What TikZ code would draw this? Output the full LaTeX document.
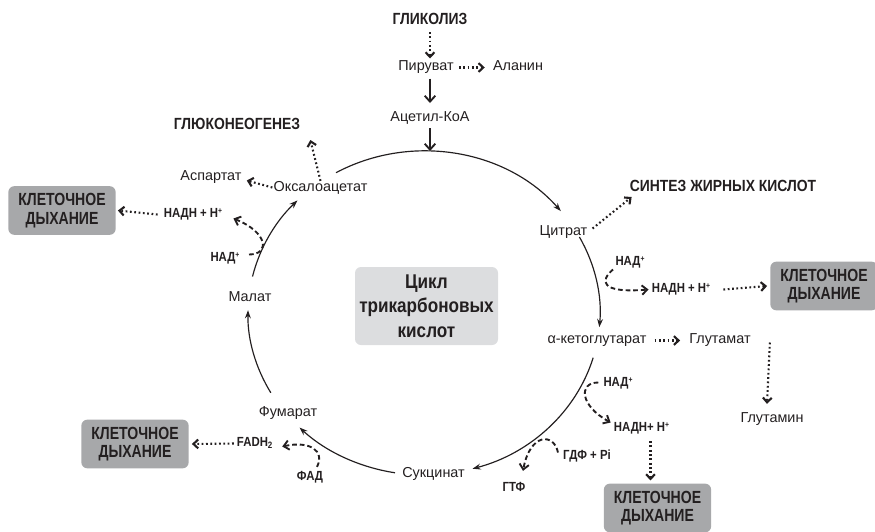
\documentclass[tikz,border=0pt]{standalone}
\usepackage{fontspec}
\setmainfont{Liberation Sans}
\newfontfamily\condbf{Liberation Sans Bold}[FakeStretch=0.86]
\newfontfamily\boxbf{Liberation Sans Bold}[FakeStretch=0.8]
\usetikzlibrary{arrows.meta,calc}
\definecolor{ink}{HTML}{231F20}
\definecolor{boxgray}{HTML}{A7A8AA}
\definecolor{cyclegray}{HTML}{DCDDDF}
\newcommand\ionplus{\raisebox{0.55ex}{\scalebox{0.6}{+}}}
\tikzset{
  lbl/.style={inner sep=0pt, text height=0.72em, text depth=0.2em, text=ink, font=\fontsize{12.3}{14}\selectfont},
  tag/.style={inner sep=0pt, text height=0.72em, text depth=0.2em, text=ink, font=\condbf\fontsize{11.3}{13}\selectfont},
  head/.style={inner sep=0pt, text height=0.72em, text depth=0pt, text=ink, font=\condbf\fontsize{13.8}{16}\selectfont},
  resp/.style={fill=boxgray, rounded corners=1.8mm, minimum width=32.2mm, minimum height=14.6mm, align=center, text=ink, font=\boxbf\fontsize{15}{16}\selectfont},
  cbox/.style={fill=cyclegray, rounded corners=1.8mm, minimum width=42.9mm, minimum height=23.4mm, align=center, text=ink, font=\condbf\fontsize{17}{21}\selectfont},
  cycarr/.style={ink, line width=1pt, -{Stealth[length=7pt,width=5pt]}},
  mainarr/.style={ink, line width=1.6pt, -{Straight Barb[length=5pt,width=9pt]}},
  dotarr/.style={ink, line width=1.8pt, dash pattern=on 1.5pt off 2.2pt, -{Straight Barb[length=4pt,width=7.5pt]}},
  dasharr/.style={ink, line width=1.6pt, dash pattern=on 4pt off 2.5pt, -{Straight Barb[length=4.5pt,width=8pt]}},
}
\begin{document}
\begin{tikzpicture}[x=0.3mm,y=-0.3mm]
  \useasboundingbox (0,0) rectangle (875,531);
  \coordinate (cyc) at (424,313);
  \node[cbox] (tca) at (426.5,306) {Цикл\\трикарбоновых\\кислот};

  \node[head] (glyc) at (430,20) {ГЛИКОЛИЗ};
  \node[lbl] (pyr) at (426,67.5) {Пируват};
  \node[lbl] (ala) at (518,67.5) {Аланин};
  \node[lbl] (acoa) at (430,118) {Ацетил-КоА};
  \node[head] (gng) at (237,125) {ГЛЮКОНЕОГЕНЕЗ};
  \node[lbl] (asp) at (211,177.5) {Аспартат};
  \node[lbl] (oaa) at (320.5,188.5) {Оксалоацетат};
  \node[tag] (nadhL) at (193,214.5) {НАДН + Н\ionplus};
  \node[tag] (nadL) at (225,258.5) {НАД\ionplus};
  \node[lbl] (mal) at (250,298.5) {Малат};
  \node[lbl] (fum) at (288,413.5) {Фумарат};
  \node[tag] (fadh) at (255,443.5) {FADH\textsubscript{2}};
  \node[tag] (fad) at (310,477.5) {ФАД};
  \node[lbl] (suc) at (433.5,474.5) {Сукцинат};
  \node[tag] (gtp) at (514,488.5) {ГТФ};
  \node[tag] (gdp) at (587,456.5) {ГДФ + Pi};
  \node[tag] (nadhB) at (641.5,428.5) {НАДН+ Н\ionplus};
  \node[tag] (nadB) at (618,383.5) {НАД\ionplus};
  \node[lbl] (akg) at (597,340.5) {α-кетоглутарат};
  \node[lbl] (glu) at (720,340.5) {Глутамат};
  \node[lbl] (gln) at (772,419.5) {Глутамин};
  \node[lbl] (cit) at (563.5,232.5) {Цитрат};
  \node[head] (fas) at (723,187) {СИНТЕЗ ЖИРНЫХ КИСЛОТ};
  \node[tag] (nadR) at (630,262.5) {НАД\ionplus};
  \node[tag] (nadhR) at (681,289.5) {НАДН + Н\ionplus};

  \node[resp] (resp1) at (62,210.5) {КЛЕТОЧНОЕ\\ДЫХАНИЕ};
  \node[resp] (resp2) at (824,286) {КЛЕТОЧНОЕ\\ДЫХАНИЕ};
  \node[resp] (resp3) at (657.5,508) {КЛЕТОЧНОЕ\\ДЫХАНИЕ};
  \node[resp] (resp4) at (135,444) {КЛЕТОЧНОЕ\\ДЫХАНИЕ};

  \draw[cycarr] ([shift={(240:176 and 162)}]cyc) arc[start angle=240, end angle=321, x radius=176, y radius=162];
  \draw[cycarr] ([shift={(332:176 and 162)}]cyc) arc[start angle=332, end angle=365, x radius=176, y radius=162];
  \draw[cycarr] ([shift={(16:176 and 162)}]cyc) arc[start angle=16, end angle=74, x radius=176, y radius=162];
  \draw[cycarr] ([shift={(99.5:176 and 162)}]cyc) arc[start angle=99.5, end angle=135, x radius=176, y radius=162];
  \draw[cycarr] ([shift={(150.5:176 and 162)}]cyc) arc[start angle=150.5, end angle=181, x radius=176, y radius=162];
  \draw[cycarr] ([shift={(193:176 and 162)}]cyc) arc[start angle=193, end angle=224, x radius=176, y radius=162];

  \draw[dotarr] ($(glyc)+(0,12)$) -- ($(pyr)+(4,-9)$);
  \draw[dotarr] ($(pyr.east)+(5,0)$) -- ($(ala.west)+(-8,0)$);
  \draw[mainarr] ($(pyr)+(4,11)$) -- ($(acoa)+(0,-15)$);
  \draw[mainarr] ($(acoa)+(0,10)$) -- ($(acoa)+(0,33)$);

  \draw[dotarr] ($(oaa.north)+(0,-2)$) -- ($(gng.east)+(10,15)$);
  \draw[dotarr] ($(oaa.west)+(-1,-1)$) -- ($(asp.east)+(5,3)$);
  \draw[dotarr] ($(nadhL.west)+(-6,0)$) -- ($(resp1.east)+(2,0)$);
  \draw[dasharr] ($(nadL)+(24,-4)$) .. controls +(21,0) and +(35,14) .. ($(nadhL.east)+(11,4)$);

  \draw[dotarr] ($(fadh.west)+(-3,0)$) -- ($(resp4.east)+(3,0)$);
  \draw[dasharr] ($(fad.north)+(7,-5)$) .. controls +(8,-16) and +(28,-6) .. ($(fadh.east)+(9,3)$);

  \draw[dotarr] ($(cit.east)+(5,-4)$) -- ($(fas.west)+(2,10)$);
  \draw[dasharr] ($(nadR)+(-17,7)$) .. controls +(-13,11) and +(-49,4) .. ($(nadhR.west)+(-3,0)$);
  \draw[dotarr] ($(nadhR.east)+(13,0)$) -- ($(resp2.west)+(-3,0)$);

  \draw[dotarr] ($(akg.east)+(8,0)$) -- ($(glu.west)+(-9,0)$);
  \draw[dotarr] ($(glu.east)+(19,2)$) -- ($(gln.north)+(-5,-10)$);

  \draw[dasharr] ($(nadB.west)+(-5,-1)$) .. controls +(-20,0) and +(-31,-17) .. ($(nadhB.west)+(-3,-6)$);
  \draw[dotarr] ($(nadhB.south)+(9,7)$) -- ($(resp3.north)+(-7,-3)$);
  \draw[dasharr] ($(gdp.west)+(-5,-4)$) .. controls +(-4,-20) and +(7,-38) .. ($(gtp.north)+(9,-12)$);
\end{tikzpicture}
\end{document}
